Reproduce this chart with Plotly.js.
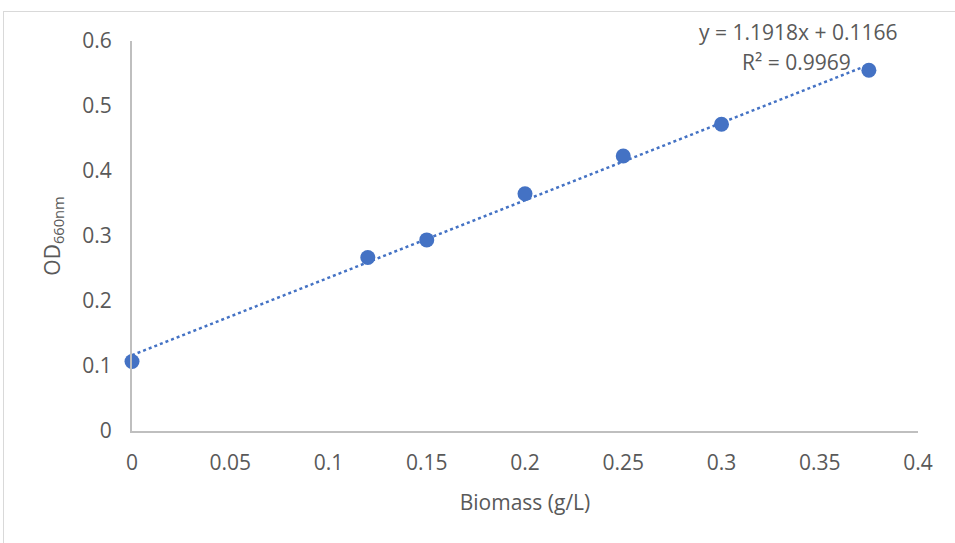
<!DOCTYPE html>
<html>
<head>
<meta charset="utf-8">
<script src="https://cdn.plot.ly/plotly-3.0.1.min.js"></script>
<style>
  html, body { margin: 0; padding: 0; background: #fff; }
  #wrap { position: relative; width: 955px; height: 543px; overflow: hidden; }
  #chart { position: absolute; left: 0; top: 0; width: 955px; height: 543px; }
  #frame { position: absolute; left: 3px; top: 11px; width: 970px; height: 560px;
           border: 1px solid #D9D9D9; pointer-events: none; }
</style>
</head>
<body>
<div id="wrap">
  <div id="chart"></div>
  <div id="frame"></div>
</div>
<script>
// Data
const biomass = [0, 0.12, 0.15, 0.2, 0.25, 0.3, 0.375];
const od660 = [0.107, 0.267, 0.294, 0.365, 0.423, 0.472, 0.555];
const slope = 1.1918;
const intercept = 0.1166;
const r2 = 0.9969;
const xTicks = [0, 0.05, 0.1, 0.15, 0.2, 0.25, 0.3, 0.35, 0.4];
const yTicks = [0, 0.1, 0.2, 0.3, 0.4, 0.5, 0.6];

const xMin = Math.min(...biomass), xMax = Math.max(...biomass);
const trendX = [xMin, xMax];
const trendY = trendX.map(x => slope * x + intercept);

const font = "'Open Sans', Lato, sans-serif";
const grey = '#595959';
const blue = '#4472C4';
const fs = 21;

const traces = [
  {
    x: trendX, y: trendY, type: 'scatter', mode: 'lines',
    line: { color: blue, width: 2.5, dash: 'dot' },
    hoverinfo: 'skip', showlegend: false, cliponaxis: false
  },
  {
    x: biomass, y: od660, type: 'scatter', mode: 'markers',
    marker: { color: blue, size: 15 },
    showlegend: false, cliponaxis: false
  }
];

const layout = {
  width: 955, height: 543,
  margin: { l: 132, r: 37, t: 41, b: 112 },
  paper_bgcolor: 'rgba(0,0,0,0)', plot_bgcolor: 'rgba(0,0,0,0)',
  font: { family: font, color: grey, size: fs },
  showlegend: false,
  xaxis: {
    range: [0, 0.4], tickvals: xTicks, ticktext: xTicks.map(String),
    showgrid: false, zeroline: false,
    showline: true, linecolor: '#BFBFBF', linewidth: 2,
    ticks: '', ticklabelstandoff: 12,
    tickfont: { family: font, size: fs, color: grey },
    title: { text: 'Biomass (g/L)', font: { family: font, size: fs, color: grey }, standoff: 20 }
  },
  yaxis: {
    range: [0, 0.6], tickvals: yTicks, ticktext: yTicks.map(String),
    showgrid: false, zeroline: false,
    showline: true, linecolor: '#BFBFBF', linewidth: 2,
    ticks: '', ticklabelstandoff: 14,
    tickfont: { family: font, size: fs, color: grey },
    title: { text: 'OD<sub>660nm</sub>', font: { family: font, size: fs, color: grey }, standoff: 16 }
  },
  annotations: [
    {
      xref: 'paper', yref: 'paper', x: 0.847, y: 1.024,
      xanchor: 'center', yanchor: 'middle', showarrow: false,
      text: 'y = ' + slope.toFixed(4) + 'x + ' + intercept.toFixed(4),
      font: { family: font, size: fs, color: grey }
    },
    {
      xref: 'paper', yref: 'paper', x: 0.846, y: 0.947,
      xanchor: 'center', yanchor: 'middle', showarrow: false,
      text: 'R² = ' + r2.toFixed(4),
      font: { family: font, size: fs, color: grey }
    }
  ]
};

Plotly.newPlot('chart', traces, layout, { displayModeBar: false, staticPlot: true });
</script>
</body>
</html>
